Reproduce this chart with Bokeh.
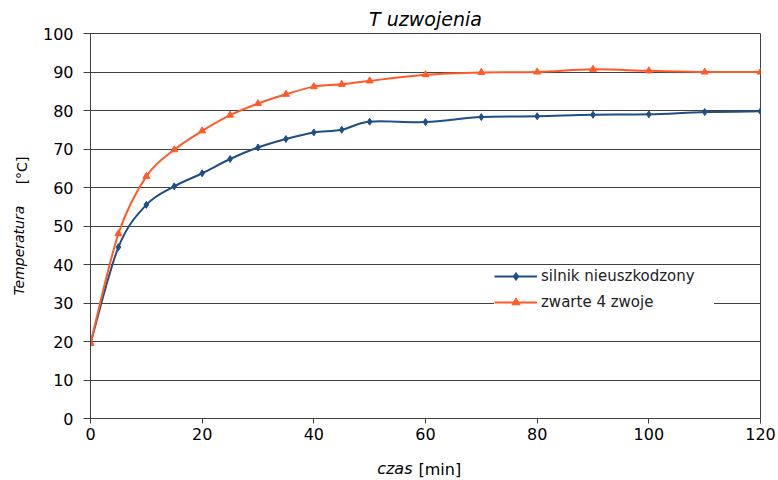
import math
from bokeh.plotting import figure
from bokeh.models import Range1d, Legend, LegendItem, Label, ColumnDataSource, Title
from bokeh.embed import file_html
from bokeh.resources import INLINE

# ---- data ----
time_min = [0, 5, 10, 15, 20, 25, 30, 35, 40, 45, 50, 60, 70, 80, 90, 100, 110, 120]
temp_healthy = [19.5, 44.5, 55.5, 60.3, 63.7, 67.4, 70.4, 72.6, 74.3, 75.0, 77.1,
                77.0, 78.3, 78.5, 78.9, 79.0, 79.6, 79.8]
temp_shorted = [19.5, 48.0, 62.9, 69.8, 74.7, 78.8, 81.8, 84.2, 86.2, 86.8, 87.7,
                89.3, 89.9, 90.0, 90.7, 90.3, 90.0, 90.0]
series_names = ["silnik nieuszkodzony", "zwarte 4 zwoje"]
x_ticks = [0, 20, 40, 60, 80, 100, 120]
y_ticks = [0, 10, 20, 30, 40, 50, 60, 70, 80, 90, 100]

BLUE = "#1D4F86"
ORANGE = "#FF5A28"
GRID = "#404040"
FONT = "DejaVu Sans"


def bezier_source(xs, ys, t=1 / 6):
    n = len(xs)
    d = dict(x0=[], y0=[], x1=[], y1=[], cx0=[], cy0=[], cx1=[], cy1=[])
    for i in range(n - 1):
        ip = max(i - 1, 0)
        inn = min(i + 2, n - 1)
        d["x0"].append(xs[i]); d["y0"].append(ys[i])
        d["x1"].append(xs[i + 1]); d["y1"].append(ys[i + 1])
        d["cx0"].append(xs[i] + (xs[i + 1] - xs[ip]) * t)
        d["cy0"].append(ys[i] + (ys[i + 1] - ys[ip]) * t)
        d["cx1"].append(xs[i + 1] - (xs[inn] - xs[i]) * t)
        d["cy1"].append(ys[i + 1] - (ys[inn] - ys[i]) * t)
    return ColumnDataSource(d)


p = figure(width=778, height=480, output_backend="svg", toolbar_location=None,
           title=None, x_range=Range1d(0, 120), y_range=Range1d(0, 100),
           min_border_left=90, min_border_right=18, min_border_top=33,
           min_border_bottom=62)
p.background_fill_color = "white"
p.border_fill_color = "white"
p.outline_line_color = GRID
p.outline_line_width = 1

p.xgrid.visible = False
p.ygrid.grid_line_color = GRID
p.ygrid.grid_line_width = 1
p.ygrid.ticker = y_ticks

for ax in (p.xaxis[0], p.yaxis[0]):
    ax.axis_line_color = GRID
    ax.major_tick_line_color = GRID
    ax.minor_tick_line_color = None
    ax.major_tick_in = 0
    ax.major_label_text_font = FONT
    ax.major_label_text_font_size = "16px"
    ax.major_label_text_color = "#000000"
p.xaxis.ticker = x_ticks
p.yaxis.ticker = y_ticks
p.xaxis.major_tick_out = 5
p.xaxis.major_label_standoff = 4
p.yaxis.major_tick_out = 7
p.yaxis.major_label_standoff = 10

# curves
p.bezier(x0="x0", y0="y0", x1="x1", y1="y1", cx0="cx0", cy0="cy0", cx1="cx1", cy1="cy1",
         source=bezier_source(time_min, temp_healthy), line_color=BLUE, line_width=2)
p.bezier(x0="x0", y0="y0", x1="x1", y1="y1", cx0="cx0", cy0="cy0", cx1="cx1", cy1="cy1",
         source=bezier_source(time_min, temp_shorted), line_color=ORANGE, line_width=2)

sc1 = p.scatter(time_min, temp_healthy, marker="diamond", size=7, color=BLUE)
sc2 = p.scatter(time_min, temp_shorted, marker="triangle", size=7, color=ORANGE)

ln1 = p.line(time_min, temp_healthy, line_color=BLUE, line_width=2, visible=False)
ln2 = p.line(time_min, temp_shorted, line_color=ORANGE, line_width=2, visible=False)

legend = Legend(items=[LegendItem(label=series_names[0], renderers=[ln1, sc1]),
                       LegendItem(label=series_names[1], renderers=[ln2, sc2])],
                location=(404, 106), border_line_color=None,
                background_fill_color="white", background_fill_alpha=1,
                padding=16, spacing=6, margin=0, glyph_width=43, glyph_height=20,
                label_height=20, label_width=173, label_standoff=4,
                label_text_font=FONT, label_text_font_size="15px",
                label_text_color="#222222")
p.add_layout(legend)

# title
p.add_layout(Title(text="T uzwojenia", align="center", text_font=FONT,
                   text_font_size="19px", text_font_style="italic",
                   text_color="#000000", standoff=8), "above")

# axis titles (mixed italic / upright) placed in the side panels
p.add_layout(Label(x=-5, y=168, x_units="screen", y_units="screen", text="Temperatura",
                   angle=math.pi / 2, text_font=FONT, text_font_size="14px",
                   text_font_style="italic", text_align="center", text_baseline="middle",
                   text_color="#000000"), "left")
p.add_layout(Label(x=14, y=248, x_units="screen", y_units="screen", text="[°C]",
                   angle=math.pi / 2, text_font=FONT, text_font_size="14px",
                   text_align="center", text_baseline="middle", text_color="#000000"), "left")
p.add_layout(Label(x=322, y=-7, x_units="screen", y_units="screen", text="czas",
                   text_font=FONT, text_font_size="16px", text_font_style="italic",
                   text_align="right", text_baseline="middle", text_color="#000000"), "below")
p.add_layout(Label(x=328, y=11, x_units="screen", y_units="screen", text="[min]",
                   text_font=FONT, text_font_size="16px",
                   text_align="left", text_baseline="middle", text_color="#000000"), "below")

open("out.html", "w").write(file_html(p, INLINE))
